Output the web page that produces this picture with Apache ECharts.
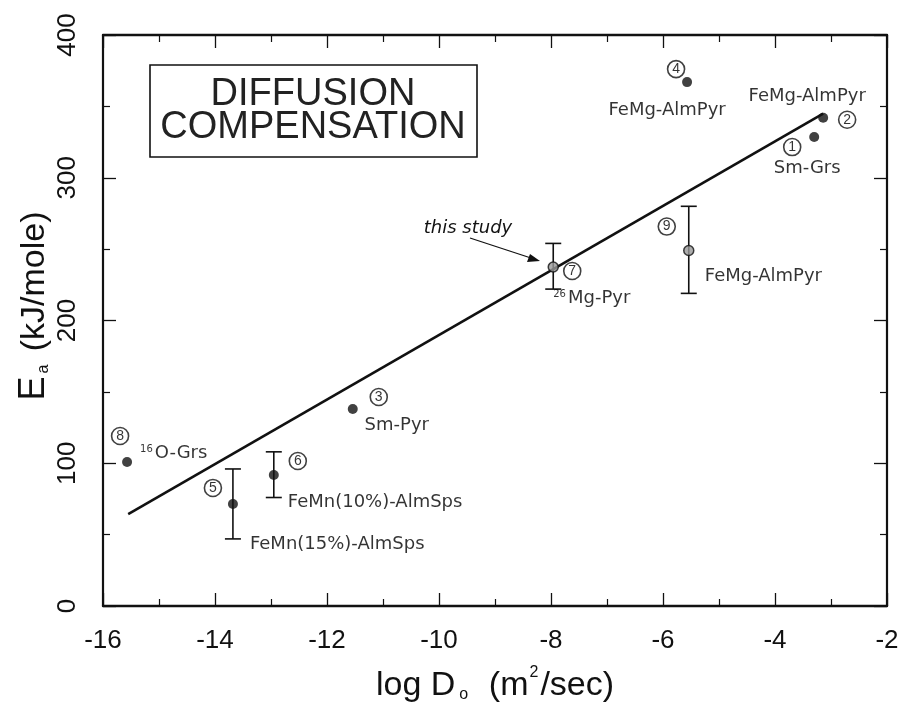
<!DOCTYPE html>
<html>
<head>
<meta charset="utf-8">
<script src="https://cdn.jsdelivr.net/npm/echarts@6/dist/echarts.min.js"></script>
<style>
  html, body { margin: 0; padding: 0; background: #fff; }
  #chart { width: 903px; height: 708px; }
</style>
</head>
<body>
<div id="chart"></div>
<script>
// points, numbered 1..9 as in the figure
const pointIds = ['1', '2', '3', '4', '5', '6', '7', '8', '9']
const logD = [-3.30, -3.14, -11.54, -5.57, -13.68, -12.95, -7.96, -15.57, -5.54]
const Ea = [328.5, 342, 138, 367, 71.5, 91.8, 237.5, 100.9, 249]
const pointNames = ['Sm-Grs', 'FeMg-AlmPyr', 'Sm-Pyr', 'FeMg-AlmPyr', 'FeMn(15%)-AlmSps',
  'FeMn(10%)-AlmSps', '{sup|26}Mg-Pyr', '{sup|16}O-Grs', 'FeMg-AlmPyr']

// error bars
const errX = [-13.68, -12.95, -7.96, -5.54]
const errLow = [47, 76, 222, 219]
const errHigh = [96, 108, 254, 280]

// compensation line
const fitX = [-15.55, -3.14]
const fitY = [64.4, 345]

const xTicks = [-16, -2, 2]   // min, max, interval
const yTicks = [0, 400, 100]

// label placement (px offsets from the point), style only
const namePlace = [[-7, 31, 'center'], [-16, -21, 'center'], [44, 16, 'center'], [-20, 28, 'center'],
  [17, 40, 'left'], [14, 27, 'left'], [0, 31, 'left'], [13, -9, 'left'], [16, 26, 'left']]
const numPlace = [[-22, 10], [24, 2], [26, -12], [-11, -13], [-20, -16], [24, -14], [19, 4], [-7, -26], [-22, -24]]

const ink = '#111'
const txtFont = 'DejaVu Sans'
const axisFont = 'Liberation Sans'

const chart = echarts.init(document.getElementById('chart'))

const tickCfg = { show: true, inside: true, length: 13, lineStyle: { color: ink, width: 1.3 } }
const minorCfg = { show: true, splitNumber: 2, length: 7, lineStyle: { color: ink, width: 1.2 } }

function xAx(pos, labels) {
  return {
    type: 'value', position: pos, min: xTicks[0], max: xTicks[1], interval: xTicks[2],
    axisLine: { show: true, onZero: false, lineStyle: { color: ink, width: 2.4 } },
    axisTick: tickCfg, minorTick: minorCfg, splitLine: { show: false },
    axisLabel: { show: labels, margin: 22, fontSize: 26, fontFamily: axisFont, color: ink }
  }
}
function yAx(pos, labels) {
  return {
    type: 'value', position: pos, min: yTicks[0], max: yTicks[1], interval: yTicks[2],
    axisLine: { show: true, onZero: false, lineStyle: { color: ink, width: 2.2 } },
    axisTick: tickCfg, minorTick: minorCfg, splitLine: { show: false },
    axisLabel: { show: labels, rotate: 90, margin: 22, fontSize: 26, fontFamily: axisFont, color: ink }
  }
}

const pointData = logD.map((x, i) => ({
  value: [x, Ea[i]],
  itemStyle: (i === 6 || i === 8) ? { color: '#999', borderColor: ink, borderWidth: 1.5 } : { color: ink },
  label: {
    show: true, position: 'inside', formatter: pointNames[i],
    offset: [namePlace[i][0], namePlace[i][1]], align: namePlace[i][2], verticalAlign: 'middle'
  }
}))

const numData = logD.map((x, i) => ({
  value: [x, Ea[i]],
  label: {
    show: true, position: 'inside', formatter: '{c|' + pointIds[i] + '}',
    offset: numPlace[i], align: 'center', verticalAlign: 'middle'
  }
}))

const option = {
  animation: false,
  backgroundColor: '#fff',
  grid: { left: 103, right: 16, top: 35, bottom: 102 },
  xAxis: [xAx('bottom', true), xAx('top', false)],
  yAxis: [yAx('left', true), yAx('right', false)],
  graphic: [
    { type: 'rect', shape: { x: 150, y: 65, width: 327, height: 92 },
      style: { fill: '#fff', stroke: ink, lineWidth: 1.6 }, z: 10 },
    { type: 'text', x: 313, y: 95, z: 11,
      style: { text: 'DIFFUSION', font: '38px "Liberation Sans"', fill: '#222', align: 'center', verticalAlign: 'middle' } },
    { type: 'text', x: 313, y: 128, z: 11,
      style: { text: 'COMPENSATION', font: '38px "Liberation Sans"', fill: '#222', align: 'center', verticalAlign: 'middle' } },
    { type: 'text', x: 468, y: 228, z: 11,
      style: { text: 'this study', font: 'italic 18px "DejaVu Sans"', fill: ink, align: 'center', verticalAlign: 'middle' } },
    { type: 'line', shape: { x1: 470, y1: 238, x2: 534, y2: 259 }, style: { stroke: ink, lineWidth: 1.3 }, z: 11 },
    { type: 'polygon', shape: { points: [[540, 261], [527, 262], [530, 254]] }, style: { fill: ink }, z: 11 },
    { type: 'text', x: 34, y: 306, rotation: Math.PI / 2, z: 11,
      style: {
        text: '{e|E}{s|a}    {n|(kJ/mole)}', align: 'center', verticalAlign: 'middle',
        rich: {
          e: { fontSize: 36, fontFamily: axisFont, fill: ink, verticalAlign: 'bottom' },
          s: { fontSize: 16, fontFamily: axisFont, fill: ink, verticalAlign: 'bottom', padding: [16, 0, 0, 3] },
          n: { fontSize: 34, fontFamily: axisFont, fill: ink, verticalAlign: 'bottom' }
        }
      } },
    { type: 'text', x: 495, y: 684, z: 11,
      style: {
        text: '{n|log D}{s|o}     {n|(m}{p|2}{n|/sec)}', align: 'center', verticalAlign: 'middle',
        rich: {
          n: { fontSize: 34, fontFamily: axisFont, fill: ink, verticalAlign: 'bottom' },
          s: { fontSize: 16, fontFamily: axisFont, fill: ink, verticalAlign: 'bottom', padding: [22, 4, 0, 4] },
          p: { fontSize: 16, fontFamily: axisFont, fill: ink, verticalAlign: 'top', padding: [0, 2, 0, 1] }
        }
      } }
  ],
  series: [
    {
      name: 'fit', type: 'line', data: fitX.map((x, i) => [x, fitY[i]]),
      symbol: 'none', lineStyle: { color: ink, width: 2.6 }, z: 2
    },
    {
      name: 'err', type: 'custom', z: 3,
      data: errX.map((x, i) => [x, errLow[i], errHigh[i]]),
      renderItem(params, api) {
        const top = api.coord([api.value(0), api.value(2)])
        const bot = api.coord([api.value(0), api.value(1)])
        const w = 8
        const st = { stroke: ink, lineWidth: 1.6 }
        return {
          type: 'group', children: [
            { type: 'line', shape: { x1: top[0], y1: top[1], x2: bot[0], y2: bot[1] }, style: st },
            { type: 'line', shape: { x1: top[0] - w, y1: top[1], x2: top[0] + w, y2: top[1] }, style: st },
            { type: 'line', shape: { x1: bot[0] - w, y1: bot[1], x2: bot[0] + w, y2: bot[1] }, style: st }
          ]
        }
      }
    },
    {
      name: 'points', type: 'scatter', symbolSize: 10, z: 4, data: pointData,
      label: {
        fontSize: 18, fontFamily: txtFont, color: '#000', textBorderWidth: 0,
        rich: { sup: { fontSize: 10, fontFamily: txtFont, color: '#000', verticalAlign: 'top', padding: [0, 2, 8, 0] } }
      }
    },
    {
      name: 'ids', type: 'scatter', symbolSize: 0, z: 5, data: numData, silent: true,
      label: {
        rich: {
          c: {
            fontSize: 14, fontFamily: axisFont, color: '#000', width: 17, height: 17, lineHeight: 17,
            align: 'center', borderColor: ink, borderWidth: 1.6, borderRadius: 10
          }
        }
      }
    }
  ]
}

chart.setOption(option)
</script>
</body>
</html>
